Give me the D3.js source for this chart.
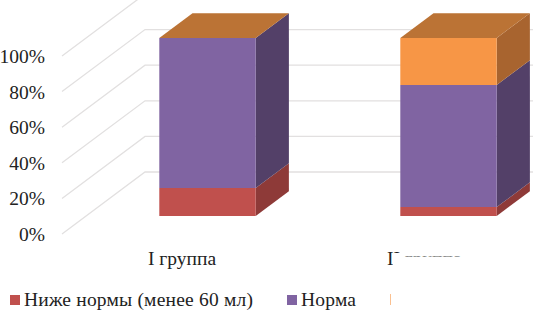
<!DOCTYPE html>
<html>
<head>
<meta charset="utf-8">
<script src="https://cdn.jsdelivr.net/npm/d3@7"></script>
<style>
body { margin: 0; background: #fff; }
text { font-family: "Liberation Serif", "Times New Roman", serif; fill: #222; }
</style>
</head>
<body>
<div id="chart"></div>
<script>
var categories = ["I группа", "II группа"];
var seriesNames = ["Ниже нормы (менее 60 мл)", "Норма", "Выше нормы"];
var low = [15.7, 5];
var norm = [84.3, 68.6];
var high = [0, 26.4];
var ticks = [0, 20, 40, 60, 80, 100];

var front = ["#c0504d", "#8064a2", "#f79646"];
var side = ["#8e3a38", "#534068", "#a8642f"];
var topFace = "#bb7335";

var width = 533, height = 313;
var fontSize = "19.5px";

var svg = d3.select("#chart").append("svg")
	.attr("width", width)
	.attr("height", height);

var y = d3.scaleLinear().domain([0, 100]).range([234, 56]);
var x = d3.scaleBand().domain(categories).range([87, 569]).paddingInner(0.6).paddingOuter(0.3);

// depth of the 3d box, 0 = front of floor, 1 = back wall
var depthX = d3.scaleLinear().domain([0, 1]).range([0, 83]);
var depthY = d3.scaleLinear().domain([0, 1]).range([0, -62]);
var barFront = 0.29, barBack = 0.69;

function project(px, v, d) {
	return [px + depthX(d), y(v) + depthY(d)];
}
function poly(points) {
	return d3.line()(points) + "Z";
}

// gridlines: floor slant then along the back wall
var grid = svg.append("g");
ticks.forEach(function(t) {
	grid.append("path")
		.attr("d", d3.line()([project(62, t, 0), project(62, t, 1), project(533, t, 1)]))
		.attr("fill", "none")
		.attr("stroke", "#e2e0e0")
		.attr("stroke-width", 1.3);
});

svg.append("g").selectAll("text")
	.data(ticks)
	.enter().append("text")
		.attr("x", 45)
		.attr("y", function(d) { return y(d) + 7; })
		.attr("text-anchor", "end")
		.style("font-size", fontSize)
		.text(function(d) { return d + "%"; });

var stack = d3.stack().keys([0, 1, 2]).value(function(d, k) { return d[k]; });
var rows = categories.map(function(c, i) { return [low[i], norm[i], high[i]]; });
var layers = stack(rows);

categories.forEach(function(c, i) {
	var g = svg.append("g");
	var x0 = x(c) - depthX(barFront), x1 = x0 + x.bandwidth();
	layers.forEach(function(layer, k) {
		var v0 = layer[i][0], v1 = layer[i][1];
		if (v1 <= v0) return;
		// side face
		g.append("path")
			.attr("d", poly([project(x1, v0, barFront), project(x1, v0, barBack), project(x1, v1, barBack), project(x1, v1, barFront)]))
			.attr("fill", side[k]);
		// front face
		g.append("path")
			.attr("d", poly([project(x0, v0, barFront), project(x1, v0, barFront), project(x1, v1, barFront), project(x0, v1, barFront)]))
			.attr("fill", front[k]);
	});
	g.append("path")
		.attr("d", poly([project(x0, 100, barFront), project(x1, 100, barFront), project(x1, 100, barBack), project(x0, 100, barBack)]))
		.attr("fill", topFace);
});

svg.append("text")
	.attr("x", 148).attr("y", 265)
	.style("font-size", fontSize)
	.text(categories[0]);

// second category label is mostly wiped out in the source scan
var clip = svg.append("clipPath").attr("id", "cat2");
clip.append("rect").attr("x", 385).attr("y", 245).attr("width", 8).attr("height", 25);
clip.append("rect").attr("x", 393).attr("y", 245).attr("width", 10).attr("height", 8);
clip.append("rect").attr("x", 403).attr("y", 253.5).attr("width", 60).attr("height", 3);
svg.append("text")
	.attr("x", 387).attr("y", 265)
	.attr("clip-path", "url(#cat2)")
	.style("font-size", fontSize)
	.text(categories[1]);

// legend
var legendX = [10, 287];
[0, 1].forEach(function(k) {
	svg.append("rect")
		.attr("x", legendX[k]).attr("y", 295).attr("width", 10).attr("height", 10)
		.attr("fill", front[k]);
	svg.append("text")
		.attr("x", legendX[k] + 14).attr("y", 306)
		.style("font-size", fontSize)
		.style("letter-spacing", "0.2px")
		.text(seriesNames[k]);
});
svg.append("rect")
	.attr("x", 390).attr("y", 294).attr("width", 1).attr("height", 11)
	.attr("fill", front[2])
	.attr("opacity", 0.6);
</script>
</body>
</html>
